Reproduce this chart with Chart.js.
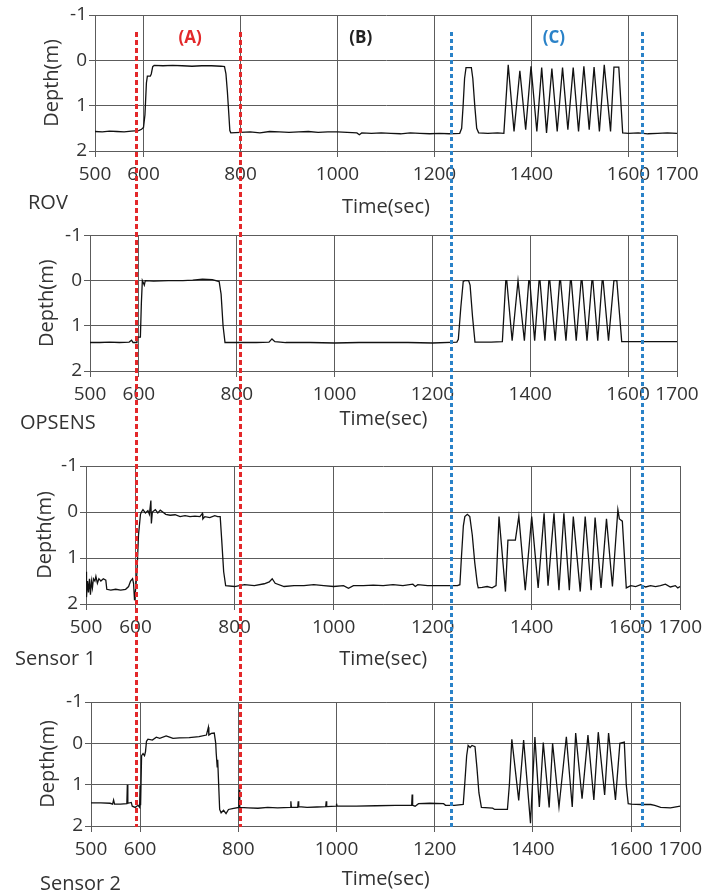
<!DOCTYPE html>
<html>
<head>
<meta charset="utf-8">
<script src="https://cdn.jsdelivr.net/npm/chart.js@4.4.1/dist/chart.umd.min.js"></script>
<style>
  body { margin: 0; background: #fff; }
  #page { position: relative; width: 708px; height: 896px; overflow: hidden; background: #fff; font-family: 'Open Sans', sans-serif; }
  #page canvas { position: absolute; left: 0; }
  .tag { position: absolute; font-size: 20px; line-height: 24px; color: #333; white-space: nowrap; }
</style>
</head>
<body>
<div id="page">
  <canvas id="p0" width="708" height="222" style="top:0px"></canvas>
  <canvas id="p1" width="708" height="220" style="top:222px"></canvas>
  <canvas id="p2" width="708" height="238" style="top:442px"></canvas>
  <canvas id="p3" width="708" height="228" style="top:668px"></canvas>
  <canvas id="marks" width="708" height="896" style="top:0px"></canvas>
  <div class="tag" style="left:28px;top:190px">ROV</div>
  <div class="tag" style="left:20px;top:410px">OPSENS</div>
  <div class="tag" style="left:15px;top:646px">Sensor 1</div>
  <div class="tag" style="left:40px;top:871px">Sensor 2</div>
</div>
<script>
// --- Axis ticks ---
const timeTicks = [500, 600, 800, 1000, 1200, 1400, 1600, 1700];
const depthTicks = [-1, 0, 1, 2];

// --- Phase markers (time in sec, read on the ROV axis) ---
const markerTimes = [585, 799, 1234, 1628];
const markerKinds = ['red', 'red', 'blue', 'blue'];
const phaseNames = ['(A)', '(B)', '(C)'];
const phaseTimes = [696, 1048, 1446];
const phaseKinds = ['red', 'black', 'blue'];

// --- Depth records: [time (sec), depth (m)] ---
const rovDepth = [
  [500,1.57],[515,1.58],[530,1.56],[545,1.57],[560,1.58],[575,1.56],[590,1.55],[596,1.52],[600,1.48],
  [603,1.2],[606,0.5],[608,0.35],[614,0.35],[616,0.3],[619,0.14],[622,0.11],[640,0.12],[660,0.11],
  [680,0.12],[700,0.13],[720,0.12],[740,0.12],[760,0.13],[767,0.14],[770,0.3],[773,0.7],[776,1.2],
  [778,1.55],[780,1.6],[800,1.59],[820,1.58],[840,1.6],[860,1.57],[880,1.58],[900,1.59],[920,1.58],
  [940,1.57],[960,1.59],[980,1.58],[1000,1.58],[1020,1.59],[1040,1.6],[1045,1.64],[1050,1.6],
  [1070,1.61],[1090,1.6],[1110,1.61],[1130,1.62],[1150,1.6],[1170,1.61],[1190,1.62],[1210,1.61],
  [1230,1.62],[1252,1.61],[1256,1.5],[1259,1.0],[1262,0.4],[1265,0.16],[1276,0.16],[1279,0.4],
  [1283,1.0],[1287,1.5],[1291,1.6],[1310,1.61],[1330,1.6],[1343,1.61],
  [1352,0.10],[1364,1.57],[1376,0.23],[1388,1.53],[1399,0.13],[1411,1.57],[1421,0.16],[1431,1.6],
  [1442,0.18],[1453,1.57],[1464,0.16],[1475,1.53],[1486,0.16],[1497,1.57],[1508,0.13],[1519,1.53],
  [1529,0.15],[1540,1.57],[1550,0.10],[1563,1.57],[1570,0.15],[1580,0.15],[1588,1.6],
  [1600,1.61],[1620,1.6],[1640,1.62],[1660,1.61],[1680,1.6],[1700,1.61]
];

const opsensDepth = [
  [500,1.37],[520,1.37],[540,1.36],[560,1.37],[580,1.36],[585,1.32],[588,1.37],[595,1.37],[596,1.25],
  [603,1.25],[605,0.5],[607,0.0],[609,0.05],[611,0.1],[613,0.0],[630,0.01],[660,0.0],[690,0.0],
  [710,-0.01],[730,-0.03],[750,-0.02],[764,0.02],[768,0.3],[772,1.0],[776,1.37],[800,1.37],
  [840,1.37],[866,1.36],[872,1.29],[878,1.35],[900,1.37],[950,1.37],[1000,1.38],[1050,1.37],
  [1100,1.37],[1150,1.37],[1200,1.38],[1250,1.36],[1253,1.3],[1258,0.6],[1263,0.02],[1266,0.0],
  [1274,0.0],[1277,0.1],[1282,0.8],[1287,1.36],[1320,1.36],[1343,1.35],
  [1350,0.0],[1352,0.0],[1363,1.33],[1375,0.0],[1377,0.0],[1388,1.33],[1397,0.0],[1399,0.0],
  [1409,1.33],[1418,0.0],[1420,0.0],[1430,1.33],[1438,0.0],[1440,0.0],[1451,1.33],[1460,0.0],
  [1462,0.0],[1473,1.33],[1482,0.0],[1484,0.0],[1494,1.33],[1504,0.0],[1506,0.0],[1516,1.33],
  [1526,0.0],[1528,0.0],[1538,1.33],[1547,0.0],[1549,0.0],[1560,1.33],[1571,0.0],[1577,0.0],
  [1587,1.35],[1620,1.35],[1660,1.35],[1700,1.35]
];

const sensor1Depth = [
  [500,1.3],[501,1.85],[503,1.5],[505,1.75],[507,1.45],[509,1.8],[511,1.5],[513,1.65],[515,1.45],
  [518,1.5],[520,1.4],[523,1.55],[526,1.45],[530,1.5],[535,1.45],[540,1.48],[542,1.68],[550,1.7],
  [560,1.68],[570,1.7],[580,1.68],[586,1.62],[590,1.5],[594,1.45],[596,1.55],[598,1.92],[600,1.7],
  [603,1.3],[606,0.5],[610,0.05],[612,0.0],[615,-0.05],[620,0.02],[625,-0.03],[628,0.05],
  [631,-0.25],[632,0.25],[634,0.0],[640,-0.05],[645,0.02],[650,-0.04],[655,0.0],[661,0.05],
  [670,0.07],[680,0.06],[690,0.1],[700,0.08],[710,0.1],[720,0.09],[730,0.1],[735,0.03],[736,0.15],
  [740,0.1],[750,0.12],[760,0.08],[766,0.1],[771,0.1],[774,0.6],[778,1.3],[782,1.6],[800,1.62],
  [820,1.58],[840,1.6],[860,1.56],[870,1.52],[876,1.45],[882,1.55],[900,1.62],[920,1.6],[940,1.6],
  [960,1.58],[980,1.6],[1000,1.62],[1020,1.6],[1030,1.66],[1040,1.6],[1060,1.6],[1080,1.59],
  [1100,1.6],[1120,1.58],[1140,1.6],[1160,1.57],[1165,1.62],[1170,1.58],[1190,1.6],[1250,1.6],
  [1255,1.58],[1258,1.0],[1262,0.3],[1265,0.1],[1270,0.05],[1275,0.1],[1280,0.5],[1285,1.1],
  [1290,1.55],[1292,1.65],[1300,1.64],[1310,1.62],[1320,1.65],[1328,1.6],
  [1334,0.10],[1347,1.73],[1352,0.61],[1367,0.61],[1374,0.09],[1387,1.70],[1400,0.10],[1413,1.65],
  [1425,0.03],[1433,1.6],[1445,0.03],[1455,1.7],[1465,0.03],[1476,1.7],[1484,0.10],[1498,1.73],
  [1508,0.10],[1520,1.7],[1528,0.12],[1540,1.65],[1551,0.15],[1563,1.62],[1574,-0.05],[1577,0.15],
  [1583,0.2],[1591,1.65],[1600,1.6],[1610,1.62],[1620,1.58],[1630,1.63],[1640,1.6],[1650,1.62],
  [1660,1.6],[1670,1.57],[1680,1.63],[1690,1.6],[1695,1.65],[1700,1.62]
];

const sensor2Depth = [
  [500,1.44],[520,1.44],[539,1.45],[544,1.47],[546,1.37],[548,1.47],[560,1.47],[573,1.46],[574,1.0],
  [575,1.45],[582,1.43],[584,1.52],[590,1.55],[596,1.5],[599,1.55],[600,1.02],[601,1.5],[603,0.3],
  [606,0.25],[609,0.3],[611,0.2],[613,-0.05],[616,-0.1],[625,-0.08],[633,-0.15],[640,-0.12],
  [653,-0.18],[660,-0.15],[667,-0.12],[680,-0.13],[700,-0.14],[720,-0.16],[735,-0.2],[739,-0.39],
  [740,-0.2],[745,-0.24],[751,-0.25],[754,0.0],[755,0.24],[757,0.57],[758,0.4],[760,1.0],[762,1.6],
  [765,1.68],[770,1.62],[775,1.7],[780,1.6],[788,1.58],[801,1.55],[802,1.12],[803,1.55],[820,1.56],
  [840,1.57],[860,1.55],[880,1.56],[906,1.55],[907,1.4],[908,1.55],[921,1.55],[922,1.4],[923,1.53],
  [940,1.55],[960,1.54],[978,1.53],[979,1.4],[980,1.53],[999,1.52],[1000,1.46],[1001,1.52],
  [1040,1.52],[1080,1.51],[1120,1.5],[1153,1.5],[1154,1.24],[1155,1.5],[1160,1.52],[1167,1.46],
  [1190,1.45],[1218,1.46],[1222,1.5],[1240,1.5],[1258,1.48],[1261,1.0],[1265,0.3],[1268,0.05],
  [1272,0.1],[1276,0.05],[1282,0.08],[1286,0.6],[1290,1.2],[1295,1.55],[1318,1.57],[1322,1.6],
  [1348,1.6],[1352,1.0],
  [1357,-0.1],[1371,1.38],[1381,-0.08],[1395,1.93],[1404,-0.15],[1413,1.54],[1421,-0.02],[1433,1.55],
  [1440,0.0],[1453,1.54],[1468,-0.16],[1480,1.54],[1487,-0.25],[1500,1.34],[1512,-0.2],[1524,1.37],
  [1533,-0.27],[1546,1.25],[1554,-0.25],[1568,1.37],[1577,0.0],[1586,-0.03],[1590,1.0],[1594,1.46],
  [1600,1.47],[1620,1.48],[1640,1.48],[1648,1.5],[1660,1.55],[1680,1.56],[1700,1.52]
];

// --- Panel layout (page pixels) ---
const panels = [
  { id: 'p0', top: 0,   height: 222, plot: { l: 95, r: 677, t: 15,  b: 151 }, titleY: 207, depthX: 52, series: rovDepth },
  { id: 'p1', top: 222, height: 220, plot: { l: 90, r: 677, t: 235, b: 371 }, titleY: 419, depthX: 47, series: opsensDepth },
  { id: 'p2', top: 442, height: 238, plot: { l: 86, r: 683, t: 466, b: 604 }, titleY: 659, depthX: 45, series: sensor1Depth },
  { id: 'p3', top: 668, height: 228, plot: { l: 91, r: 686, t: 702, b: 826 }, titleY: 879, depthX: 48, series: sensor2Depth }
];

const gridColor = '#5c5c5c';
const textColor = '#333';
const inkColors = { red: '#e3282a', blue: '#2a82c8', black: '#222' };

Chart.defaults.font.family = "'Open Sans', sans-serif";

function makePanel(p) {
    const padLeft = p.depthX - 12;
    const yWidth = p.plot.l - padLeft;
    const xHeight = p.titleY + 12 - p.plot.b;
    return new Chart(document.getElementById(p.id), {
        type: 'line',
        data: {
            datasets: [{ data: p.series, borderColor: '#111', borderWidth: 1.3, pointRadius: 0, tension: 0 }]
        },
        options: {
            responsive: false, animation: false, devicePixelRatio: 1,
            layout: { padding: { left: padLeft, right: 708 - p.plot.r, top: p.plot.t - p.top, bottom: p.top + p.height - (p.titleY + 12) } },
            plugins: { legend: { display: false }, tooltip: { enabled: false } },
            scales: {
                x: {
                    type: 'linear', min: 500, max: 1700,
                    afterBuildTicks: s => { s.ticks = timeTicks.map(v => ({ value: v })); },
                    afterFit: s => { s.height = xHeight; },
                    ticks: { autoSkip: false, maxRotation: 0, padding: 6, color: textColor, font: { size: 19 }, callback: v => String(v) },
                    grid: { color: gridColor, tickLength: 6 },
                    border: { color: gridColor },
                    title: { display: true, text: 'Time(sec)', color: textColor, font: { size: 20 }, padding: 0 }
                },
                y: {
                    type: 'linear', reverse: true, min: -1, max: 2,
                    afterBuildTicks: s => { s.ticks = depthTicks.map(v => ({ value: v })); },
                    afterFit: s => { s.width = yWidth; },
                    ticks: { padding: 2, color: textColor, font: { size: 19 }, callback: v => String(v) },
                    grid: { color: gridColor, tickLength: 6 },
                    border: { color: gridColor },
                    title: { display: true, text: 'Depth(m)', color: textColor, font: { size: 20 }, padding: 0 }
                }
            }
        }
    });
}

const charts = panels.map(makePanel);

// --- Phase markers drawn across all panels, positioned on the ROV time axis ---
function drawMarkers() {
    const ctx = document.getElementById('marks').getContext('2d');
    const xs = charts[0].scales.x;
    const y0 = charts[0].chartArea.top + 17;
    const y1 = panels[3].top + charts[3].chartArea.bottom + 1;
    ctx.lineWidth = 3;
    markerTimes.forEach((t, i) => {
        const x = Math.round(xs.getPixelForValue(t)) + 0.5;
        ctx.strokeStyle = inkColors[markerKinds[i]];
        ctx.setLineDash(markerKinds[i] === 'red' ? [5, 3] : [4, 3]);
        ctx.beginPath();
        ctx.moveTo(x, y0);
        ctx.lineTo(x, y1);
        ctx.stroke();
    });
    ctx.font = "bold 17px 'Open Sans', sans-serif";
    ctx.textAlign = 'center';
    ctx.textBaseline = 'middle';
    phaseNames.forEach((name, i) => {
        ctx.fillStyle = inkColors[phaseKinds[i]];
        ctx.fillText(name, xs.getPixelForValue(phaseTimes[i]), charts[0].chartArea.top + 23);
    });
}
drawMarkers();
</script>
</body>
</html>
